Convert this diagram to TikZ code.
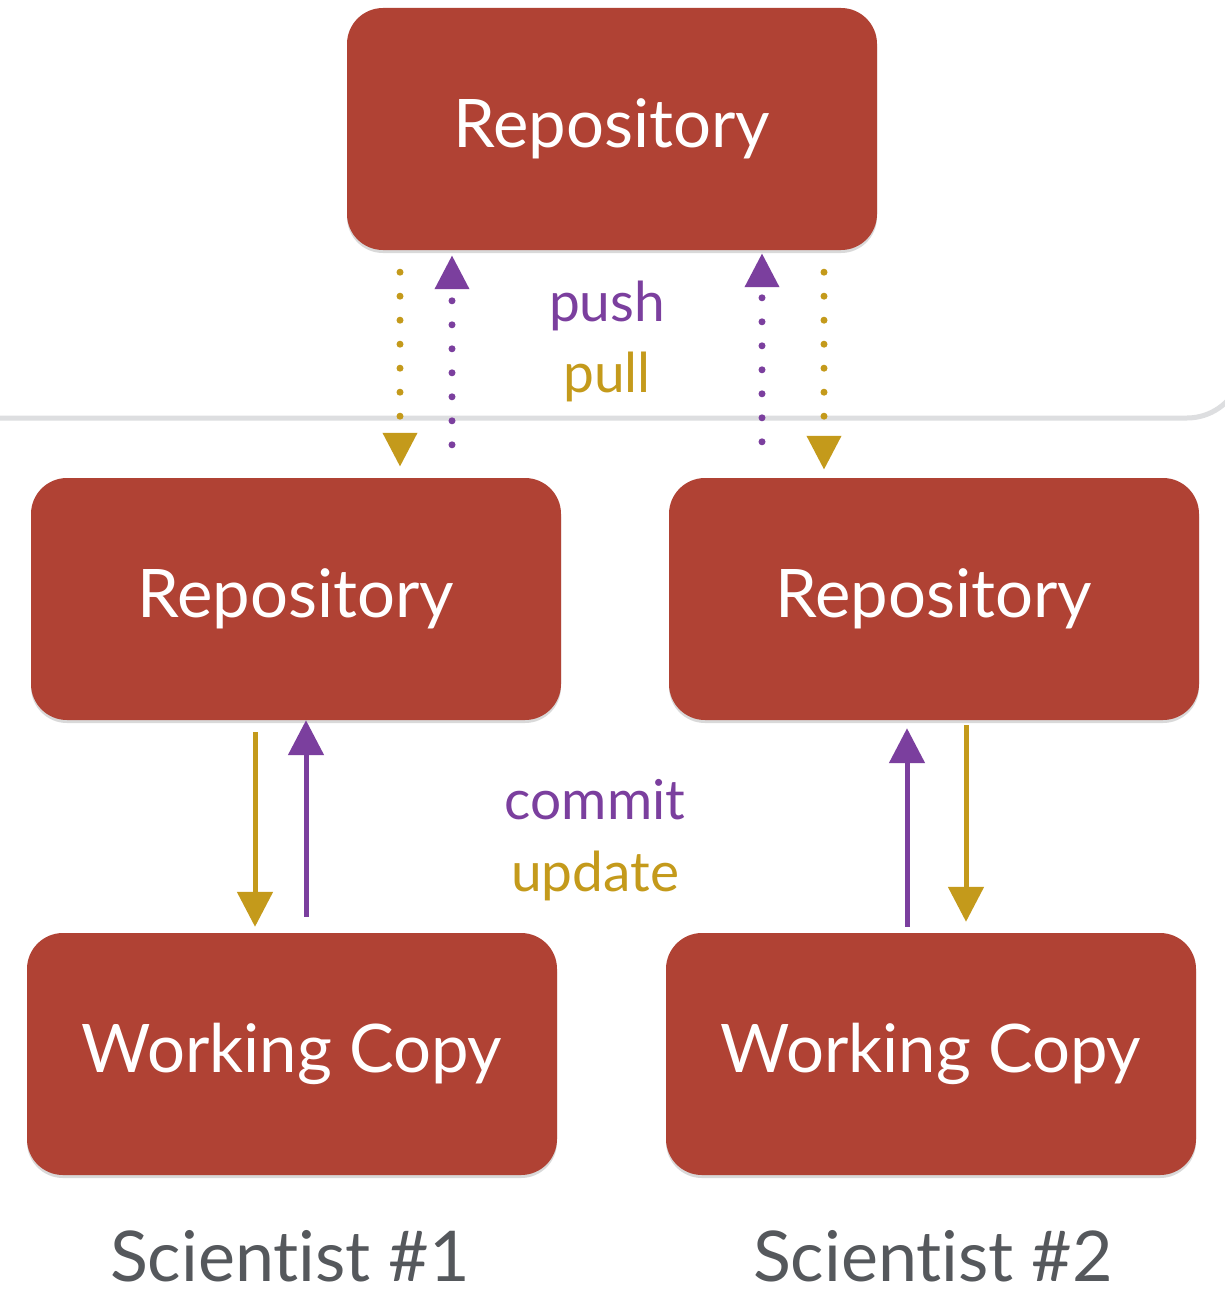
\documentclass[tikz,border=0pt]{standalone}
\usepackage{fontspec}
\setmainfont{Lato}[Ligatures=NoCommon]
\usetikzlibrary{arrows.meta,shadows,calc}
\definecolor{brick}{RGB}{176,66,52}
\definecolor{pushc}{RGB}{123,63,158}
\definecolor{pullc}{RGB}{196,154,27}
\definecolor{sepc}{RGB}{221,222,224}
\definecolor{scic}{RGB}{85,88,92}
\tikzset{
  box/.style={fill=brick, rounded corners=36pt, minimum width=530pt, minimum height=242pt,
    inner sep=0pt, text=white, font=\fontsize{67}{80}\selectfont,
    drop shadow={shadow xshift=0pt, shadow yshift=-3pt, opacity=0.15, fill=black}},
  lbl/.style={font=\fontsize{55}{66}\selectfont, inner sep=0pt},
  sci/.style={font=\fontsize{70}{84}\selectfont, text=scic, inner sep=0pt},
  dotarrow/.style={line width=7pt, line cap=round, dash pattern=on 0pt off 24pt,
    -{Triangle[length=34pt,width=33pt,line cap=butt]}},
  solidarrow/.style={line width=5pt, -{Triangle[length=35pt,width=35pt]}},
}
\begin{document}
\begin{tikzpicture}[x=1pt,y=-1pt]
\clip (0,0) rectangle (1225,1295);
\fill[white] (0,0) rectangle (1225,1295);
% separator
\draw[sepc, line width=5pt] (0,418) -- (1187,418) arc[start angle=90, end angle=20, radius=56];
% boxes
\node[box] (top) at (612,129) {\raisebox{-4pt}{Repository}};
\node[box] (lrepo) at (296,599) {\raisebox{-4pt}{Repository}};
\node[box] (rrepo) at (934,599) {\raisebox{-4pt}{Repository}};
\node[box] (lwc) at (292,1054) {\raisebox{-3pt}{Working Copy}};
\node[box] (rwc) at (931,1054) {\raisebox{-3pt}{Working Copy}};
% labels
\node[lbl, text=pushc, anchor=base] (push) at (607,321) {push};
\node[lbl, text=pullc, anchor=base] (pull) at (607,392) {pull};
\node[lbl, text=pushc, anchor=base] (commit) at (595,819) {commit};
\node[lbl, text=pullc, anchor=base] (update) at (595,891) {update};
\node[sci, anchor=base] (s1) at (290,1281) {Scientist \#1};
\node[sci, anchor=base] (s2) at (933,1281) {Scientist \#2};
% push / pull dotted arrows
\draw[dotarrow, pullc] ([yshift=-22pt]top.south -| 400,0) -- ([yshift=11pt]lrepo.north -| 400,0);
\draw[dotarrow, pushc] ([yshift=33pt]lrepo.north -| 452,0) -- ([yshift=-5pt]top.south -| 452,0);
\draw[dotarrow, pushc] ([yshift=36pt]rrepo.north -| 762,0) -- ([yshift=-3pt]top.south -| 762,0);
\draw[dotarrow, pullc] ([yshift=-22pt]top.south -| 824,0) -- ([yshift=8pt]rrepo.north -| 824,0);
% commit / update solid arrows
\draw[solidarrow, pullc] ([yshift=-12pt]lrepo.south -| 255,0) -- ([yshift=6pt]lwc.north -| 255,0);
\draw[solidarrow, pushc] ([yshift=16pt]lwc.north -| 306,0) -- ([yshift=0pt]lrepo.south -| 306,0);
\draw[solidarrow, pushc] ([yshift=6pt]rwc.north -| 907,0) -- ([yshift=-8pt]rrepo.south -| 907,0);
\draw[solidarrow, pullc] ([yshift=-5pt]rrepo.south -| 966,0) -- ([yshift=11pt]rwc.north -| 966,0);
\end{tikzpicture}
\end{document}
